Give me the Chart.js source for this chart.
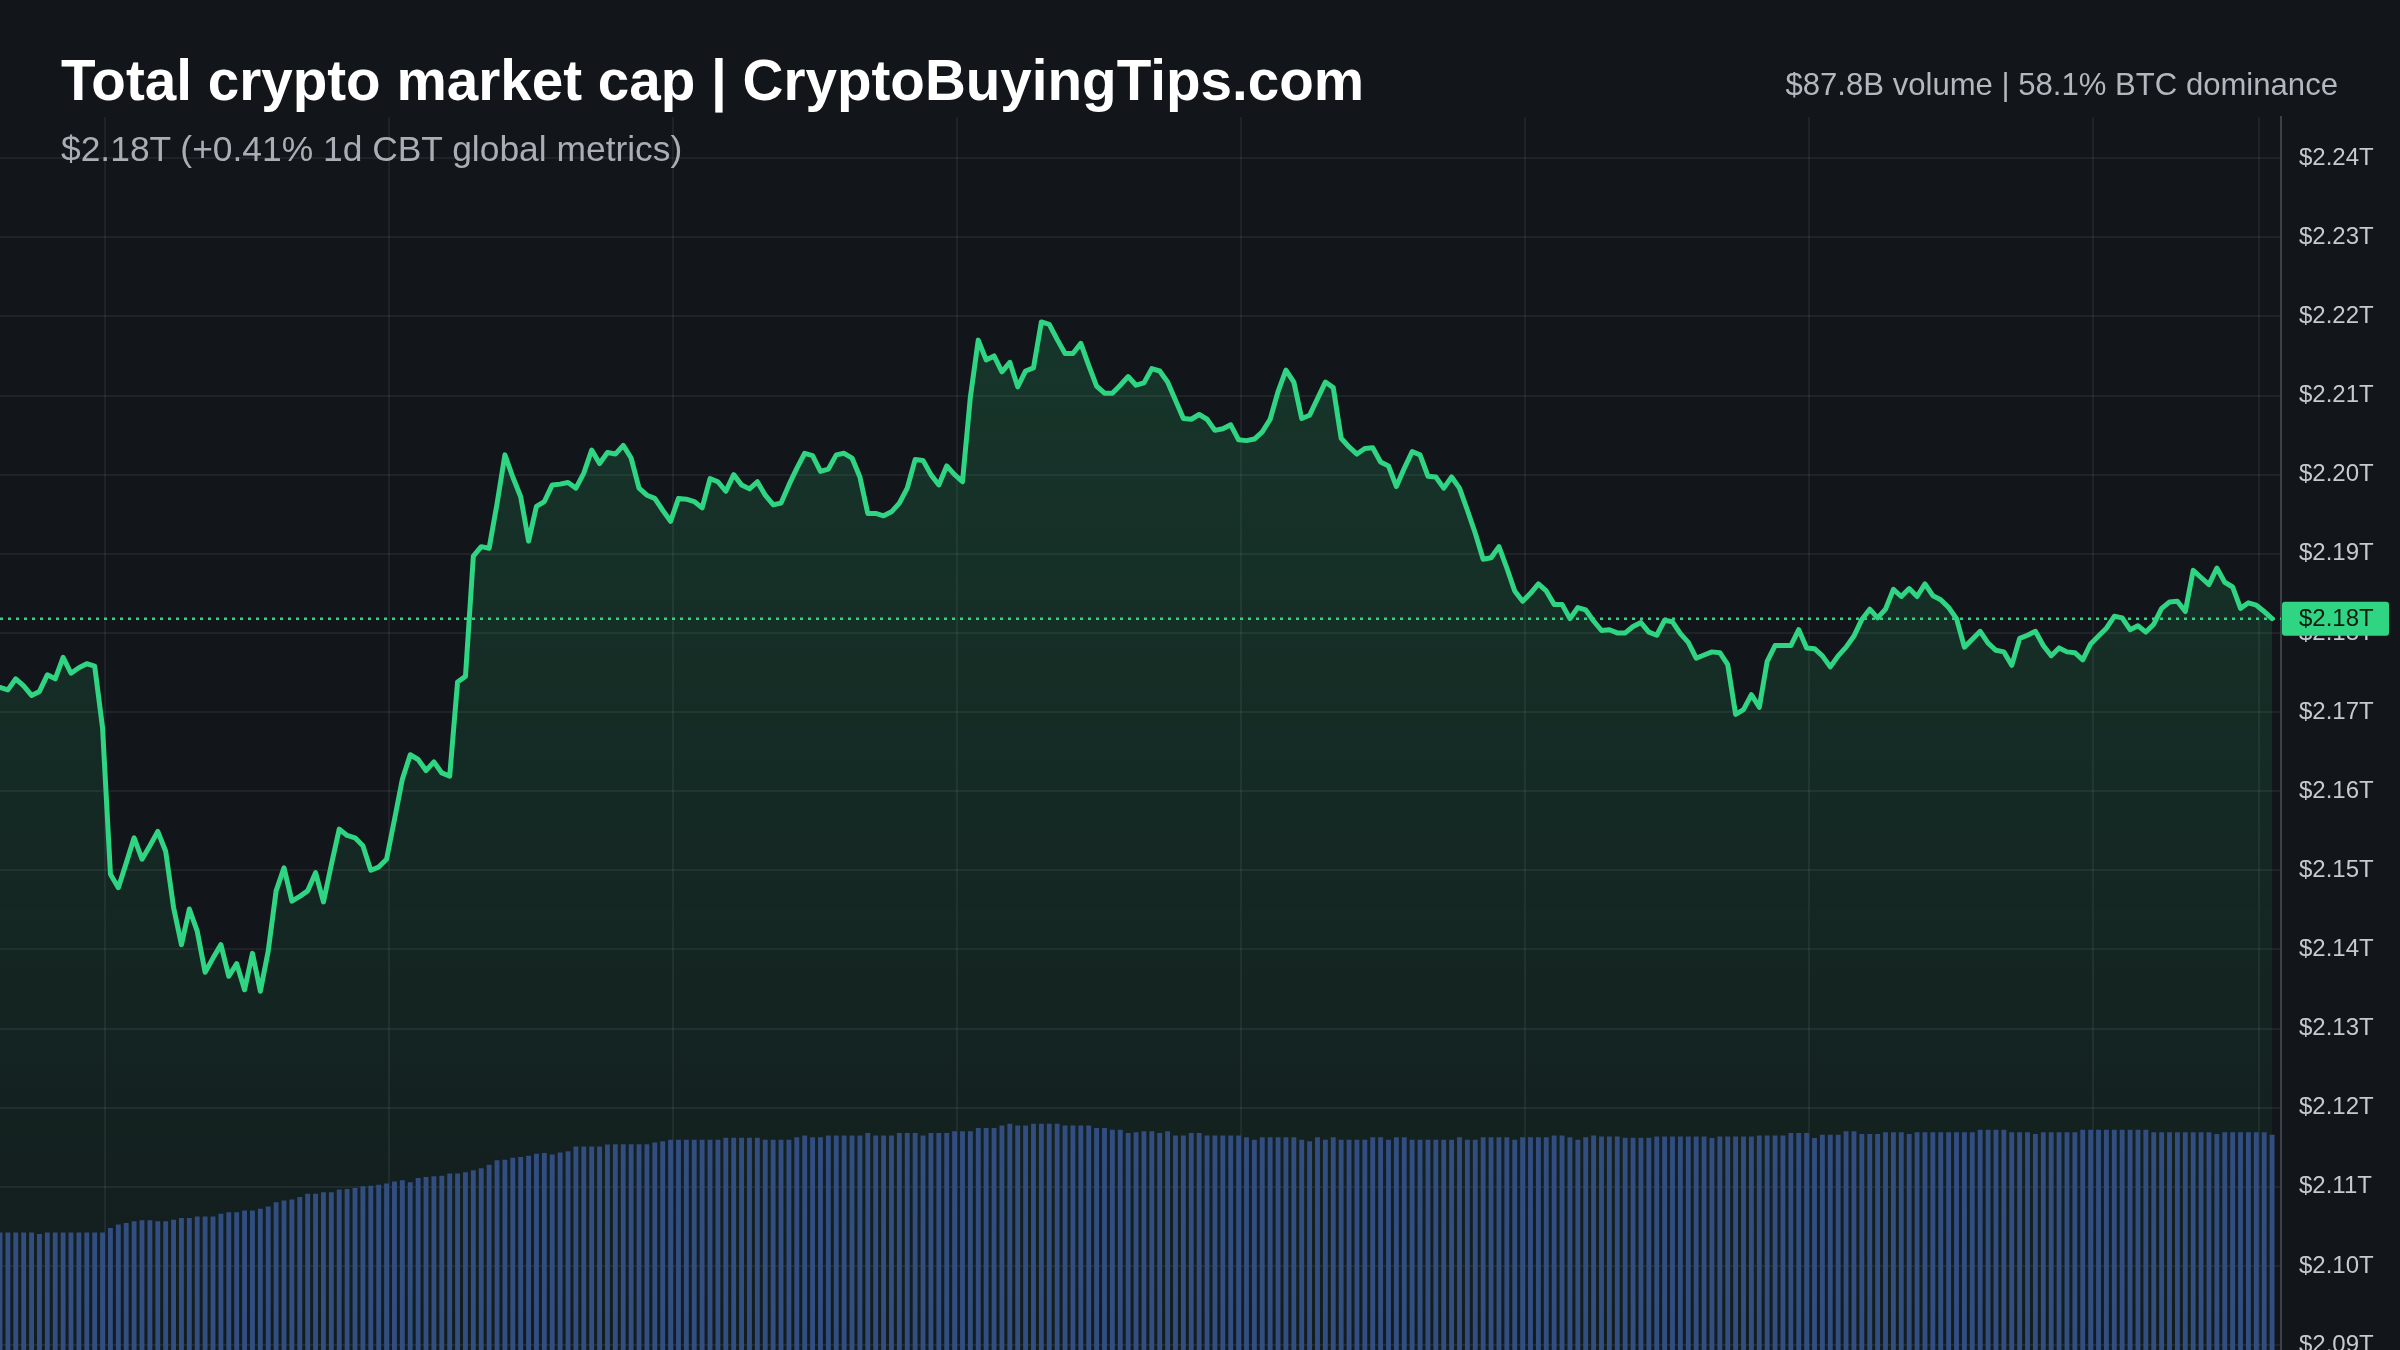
<!DOCTYPE html>
<html>
<head>
<meta charset="utf-8">
<title>Total crypto market cap</title>
<script src="https://cdn.jsdelivr.net/npm/chart.js@4.4.1/dist/chart.umd.min.js"></script>
<style>
  html, body { margin: 0; padding: 0; background: #121519; overflow: hidden; }
  body { width: 2400px; height: 1350px; position: relative; font-family: "Liberation Sans", Arial, Helvetica, sans-serif; }
  /* taller than the window: the y axis keeps room under the last tick label, and the bottom is cut like the original */
  #wrap { position: absolute; left: 0; top: 0; width: 2400px; height: 1432px; }
  .txt { position: absolute; white-space: nowrap; }
  #title { left: 61px; top: 52px; font-size: 56.6px; line-height: 57px; font-weight: bold; color: #ffffff; }
  #sub { left: 61px; top: 132px; font-size: 35.4px; line-height: 35px; color: #a9aeb6; }
  #stats { right: 62px; top: 69px; font-size: 31.1px; line-height: 31px; color: #b3b8bf; }
</style>
</head>
<body>
<div id="wrap"><canvas id="chart"></canvas></div>
<div class="txt" id="title">Total crypto market cap | CryptoBuyingTips.com</div>
<div class="txt" id="sub">$2.18T (+0.41% 1d CBT global metrics)</div>
<div class="txt" id="stats">$87.8B volume | 58.1% BTC dominance</div>
<script>
// total market cap, trillions USD, one point every 5 minutes over 24h
const price = [
  2.1731, 2.1728, 2.1742, 2.1733, 2.1721, 2.1726, 2.1747, 2.1742, 2.1769, 2.1749,
  2.1756, 2.1761, 2.1758, 2.1680, 2.1495, 2.1478, 2.1509, 2.1541, 2.1514, 2.1531,
  2.1549, 2.1524, 2.1453, 2.1406, 2.1451, 2.1423, 2.1371, 2.1389, 2.1406, 2.1366,
  2.1382, 2.1349, 2.1395, 2.1347, 2.1398, 2.1474, 2.1503, 2.1461, 2.1467, 2.1474,
  2.1497, 2.1460, 2.1507, 2.1552, 2.1544, 2.1541, 2.1531, 2.1500, 2.1504, 2.1514,
  2.1564, 2.1615, 2.1646, 2.1640, 2.1626, 2.1637, 2.1623, 2.1619, 2.1738, 2.1745,
  2.1897, 2.1909, 2.1907, 2.1963, 2.2025, 2.1997, 2.1972, 2.1916, 2.1960, 2.1966,
  2.1987, 2.1988, 2.1990, 2.1983, 2.2002, 2.2031, 2.2014, 2.2028, 2.2026, 2.2037,
  2.2021, 2.1983, 2.1974, 2.1970, 2.1955, 2.1941, 2.1970, 2.1969, 2.1966, 2.1958,
  2.1995, 2.1991, 2.1979, 2.2000, 2.1987, 2.1982, 2.1991, 2.1974, 2.1962, 2.1964,
  2.1987, 2.2008, 2.2027, 2.2024, 2.2004, 2.2007, 2.2025, 2.2027, 2.2021, 2.1997,
  2.1951, 2.1951, 2.1948, 2.1953, 2.1964, 2.1983, 2.2019, 2.2018, 2.2000, 2.1987,
  2.2011, 2.2000, 2.1991, 2.2098, 2.2170, 2.2145, 2.2150, 2.2130, 2.2142, 2.2111,
  2.2131, 2.2135, 2.2193, 2.2190, 2.2171, 2.2153, 2.2153, 2.2166, 2.2138, 2.2112,
  2.2103, 2.2103, 2.2113, 2.2124, 2.2113, 2.2116, 2.2134, 2.2131, 2.2117, 2.2094,
  2.2071, 2.2070, 2.2076, 2.2070, 2.2056, 2.2058, 2.2063, 2.2044, 2.2043, 2.2045,
  2.2054, 2.2070, 2.2105, 2.2132, 2.2117, 2.2071, 2.2075, 2.2096, 2.2117, 2.2110,
  2.2046, 2.2035, 2.2026, 2.2033, 2.2034, 2.2016, 2.2011, 2.1985, 2.2008, 2.2029,
  2.2025, 2.1998, 2.1997, 2.1983, 2.1997, 2.1983, 2.1955, 2.1926, 2.1893, 2.1895,
  2.1909, 2.1882, 2.1853, 2.1840, 2.1850, 2.1862, 2.1853, 2.1836, 2.1836, 2.1818,
  2.1832, 2.1829, 2.1815, 2.1803, 2.1804, 2.1800, 2.1800, 2.1808, 2.1813,
  2.1801, 2.1797, 2.1816, 2.1814, 2.1799, 2.1788, 2.1768, 2.1772, 2.1776, 2.1775,
  2.1760, 2.1697, 2.1703, 2.1722, 2.1706, 2.1764, 2.1784, 2.1784, 2.1784, 2.1804,
  2.1781, 2.1780, 2.1771, 2.1757, 2.1771, 2.1782, 2.1796, 2.1817, 2.1830, 2.1819,
  2.1830, 2.1855, 2.1846, 2.1856, 2.1846, 2.1862, 2.1847, 2.1842, 2.1832, 2.1818,
  2.1782, 2.1792, 2.1802, 2.1787, 2.1778, 2.1776, 2.1759, 2.1793, 2.1797, 2.1802,
  2.1784, 2.1771, 2.1781, 2.1776, 2.1775, 2.1766, 2.1786, 2.1796, 2.1806, 2.1821,
  2.1819, 2.1804, 2.1809, 2.1801, 2.1811, 2.1831, 2.1839, 2.1840, 2.1827, 2.1879,
  2.1870, 2.1861, 2.1882, 2.1864, 2.1858, 2.1831, 2.1838, 2.1835, 2.1827, 2.1818
];

// rolling 24h volume, billions USD (hidden axis)
const volume = [
  55.4, 55.4, 55.4, 55.4, 55.4, 54.9, 55.4, 55.4, 55.4, 55.4,
  55.4, 55.4, 55.4, 55.4, 56.9, 58.0, 58.5, 59.1, 59.4, 59.4,
  59.1, 59.1, 59.6, 60.2, 60.2, 60.7, 60.7, 60.7, 61.6, 62.1,
  62.1, 62.7, 62.7, 63.2, 64.0, 65.4, 66.0, 66.3, 67.1, 68.2,
  68.2, 68.7, 68.7, 69.6, 69.8, 70.1, 70.7, 70.9, 71.2, 71.6,
  72.3, 72.7, 72.0, 73.4, 73.8, 74.0, 74.2, 74.9, 74.9, 75.3,
  76.0, 76.7, 77.8, 79.3, 79.5, 80.1, 80.4, 80.8, 81.5, 81.7,
  81.2, 81.9, 82.3, 83.9, 83.9, 83.9, 83.9, 84.5, 84.6, 84.6,
  84.6, 84.6, 84.6, 85.2, 85.6, 86.1, 86.1, 86.1, 86.1, 86.1,
  86.1, 86.1, 86.8, 86.8, 86.8, 86.8, 86.8, 86.1, 86.1, 86.1,
  86.1, 86.9, 87.5, 86.9, 86.9, 87.5, 87.5, 87.5, 87.5, 87.5,
  88.3, 87.5, 87.5, 87.5, 88.3, 88.3, 88.3, 87.5, 88.3, 88.3,
  88.3, 88.9, 88.9, 88.9, 90.0, 90.0, 90.0, 90.8, 91.4, 90.8,
  90.8, 91.4, 91.4, 91.4, 91.4, 90.8, 90.8, 90.8, 90.8, 90.0,
  90.0, 89.4, 89.4, 88.3, 88.6, 88.9, 88.9, 88.3, 88.9, 87.5,
  87.5, 88.3, 88.3, 87.5, 87.5, 87.5, 87.5, 87.5, 86.9, 86.1,
  86.9, 86.9, 86.9, 86.9, 86.9, 86.1, 85.6, 86.9, 86.1, 86.9,
  86.1, 86.1, 86.1, 86.1, 86.9, 86.9, 86.1, 86.9, 86.9, 86.1,
  86.1, 86.1, 86.1, 86.1, 86.1, 86.9, 86.1, 86.1, 86.9, 86.9,
  86.9, 86.9, 86.1, 86.9, 86.9, 86.9, 86.9, 87.5, 87.5, 86.9,
  86.1, 86.9, 87.5, 87.2, 87.2, 87.2, 86.8, 86.8, 86.8, 86.8,
  87.2, 87.2, 87.2, 87.2, 87.2, 87.2, 87.2, 86.7, 87.2, 87.2,
  87.2, 87.2, 87.2, 87.5, 87.5, 87.5, 87.5, 88.3, 88.3, 88.3,
  86.7, 87.8, 87.8, 87.8, 88.9, 88.9, 88.0, 88.0, 88.0, 88.6,
  88.6, 88.6, 88.0, 88.6, 88.6, 88.6, 88.6, 88.6, 88.6, 88.6,
  88.6, 89.4, 89.4, 89.4, 89.4, 88.6, 88.6, 88.6, 88.0, 88.6,
  88.6, 88.6, 88.6, 88.6, 89.4, 89.4, 89.4, 89.4, 89.4, 89.4,
  89.4, 89.4, 89.4, 88.6, 88.6, 88.6, 88.6, 88.6, 88.6, 88.6,
  88.6, 88.0, 88.6, 88.6, 88.6, 88.6, 88.6, 88.6, 87.8
];

// y axis tick labels (trillions)
const yTicks = [2.09, 2.10, 2.11, 2.12, 2.13, 2.14, 2.15, 2.16, 2.17, 2.18, 2.19, 2.20, 2.21, 2.22, 2.23, 2.24];
// vertical grid lines (3h marks), in point index units
const xGridMarks = [13.3, 49.3, 85.3, 121.3, 157.3, 193.3, 229.3, 265.3, 286.3];

const idx = price.map((p, i) => i);

const lineColor = '#2fd582';
const barColor = '#324d80';
const gridColor = 'rgba(255, 255, 255, 0.06)';
const fontFamily = '"Liberation Sans", Arial, Helvetica, sans-serif';

Chart.defaults.font.family = fontFamily;

// dotted last-price line + green price tag on the axis
const priceLine = {
  id: 'priceLine',
  afterDatasetsDraw(chart) {
    const { ctx, chartArea, scales } = chart;
    const last = price[price.length - 1];
    const y = scales.y.getPixelForValue(last);
    ctx.save();
    ctx.strokeStyle = lineColor;
    ctx.lineWidth = 2.5;
    ctx.setLineDash([3, 5]);
    ctx.beginPath();
    ctx.moveTo(chartArea.left, y);
    ctx.lineTo(chartArea.right, y);
    ctx.stroke();
    ctx.restore();
  },
  afterDraw(chart) {
    const { ctx, chartArea, scales } = chart;
    const last = price[price.length - 1];
    const y = scales.y.getPixelForValue(last);
    ctx.save();
    ctx.fillStyle = lineColor;
    ctx.beginPath();
    ctx.roundRect(chartArea.right + 1, y - 17, 107, 34, 3);
    ctx.fill();
    ctx.fillStyle = '#0c1a12';
    ctx.font = '24px ' + fontFamily;
    ctx.textBaseline = 'middle';
    ctx.fillText('$' + last.toFixed(2) + 'T', chartArea.right + 18, y + 1);
    ctx.restore();
  }
};

new Chart(document.getElementById('chart'), {
  type: 'line',
  data: {
    labels: idx,
    datasets: [
      {
        type: 'line',
        label: 'Market cap',
        data: price,
        yAxisID: 'y',
        borderColor: lineColor,
        borderWidth: 5,
        borderJoinStyle: 'round',
        borderCapStyle: 'round',
        pointRadius: 0,
        tension: 0,
        fill: 'start',
        backgroundColor: (context) => {
          const { ctx, chartArea } = context.chart;
          if (!chartArea) return 'rgba(47, 213, 130, 0.1)';
          const g = ctx.createLinearGradient(0, chartArea.top, 0, chartArea.bottom);
          g.addColorStop(0, 'rgba(47, 213, 130, 0.2)');
          g.addColorStop(1, 'rgba(47, 213, 130, 0.03)');
          return g;
        },
        order: 1
      },
      {
        type: 'bar',
        label: 'Volume',
        data: volume,
        yAxisID: 'yv',
        backgroundColor: barColor,
        barPercentage: 0.62,
        categoryPercentage: 1,
        order: 2
      }
    ]
  },
  options: {
    responsive: true,
    maintainAspectRatio: false,
    animation: false,
    devicePixelRatio: 1,
    layout: { padding: { top: 117, left: 0, right: 0, bottom: 0 } },
    plugins: {
      legend: { display: false },
      tooltip: { enabled: false },
      filler: { drawTime: 'beforeDatasetsDraw' }
    },
    scales: {
      x: {
        type: 'linear',
        min: 0,
        max: 289.13,
        offset: false,
        afterBuildTicks: (s) => { s.ticks = xGridMarks.map(v => ({ value: v })); },
        ticks: { display: false },
        border: { display: false },
        grid: { color: gridColor, lineWidth: 2, drawTicks: false, offset: false }
      },
      y: {
        position: 'right',
        min: 2.0831,
        max: 2.2452,
        afterBuildTicks: (s) => { s.ticks = yTicks.map(v => ({ value: v })); },
        afterFit: (s) => { s.width = 119; },
        grid: { color: gridColor, lineWidth: 2, drawTicks: false },
        border: { display: true, color: '#3c4149', width: 2 },
        ticks: {
          color: '#c6cad0',
          padding: 18,
          font: { size: 24 },
          callback: (v) => '$' + Number(v).toFixed(2) + 'T'
        }
      },
      yv: { type: 'linear', display: false, min: 0, max: 425 }
    }
  },
  plugins: [priceLine]
});
</script>
</body>
</html>
